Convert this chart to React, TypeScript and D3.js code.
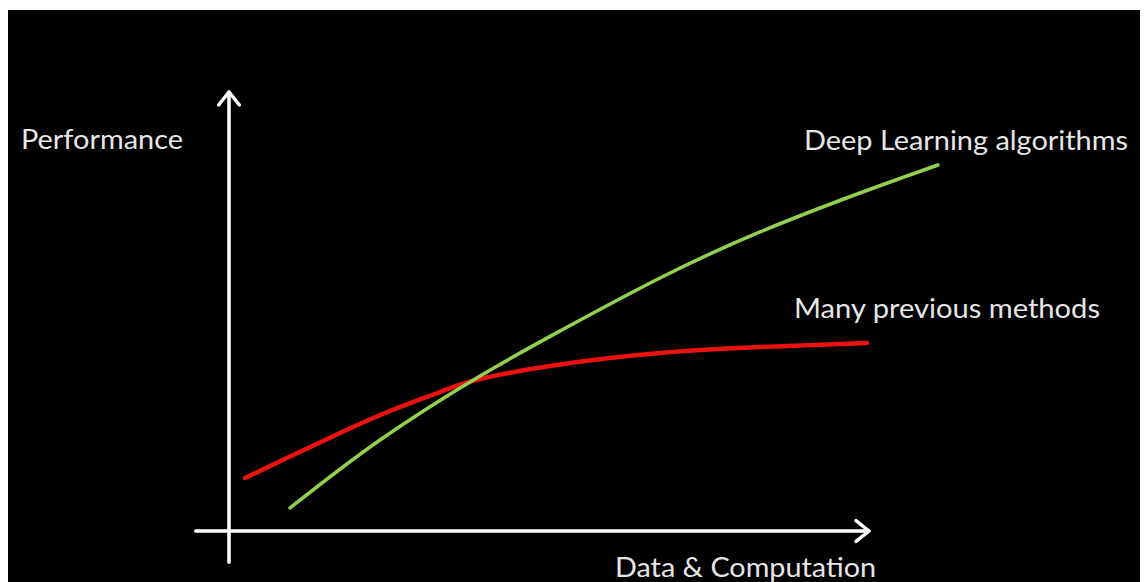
import React from "react";
import * as d3 from "d3";

// Conceptual curves: performance vs. amount of data & computation
const previousMethodsX = [2.5, 9.53, 17.34, 25.16, 32.97, 39.22, 51.72, 67.34, 82.97, 99.69];
const previousMethodsY = [12.07, 16.97, 22.32, 27.33, 31.66, 34.62, 37.93, 40.55, 41.91, 42.82];

const deepLearningX = [9.53, 23.59, 39.22, 51.72, 67.34, 82.97, 98.59, 110.78];
const deepLearningY = [5.24, 20.73, 35.31, 45.56, 57.63, 68.12, 76.99, 83.37];

const xAxisExtent = [-5.2, 100];
const yAxisExtent = [-7.1, 100];

const labels = {
  yAxis: "Performance",
  xAxis: "Data & Computation",
  deep: "Deep Learning algorithms",
  previous: "Many previous methods",
};

const W = 1140;
const H = 574;
const OFF = 8; // svg sits inside the body margin

export default function App() {
  const x = d3.scaleLinear().domain([0, 100]).range([229 - OFF, 869 - OFF]);
  const y = d3.scaleLinear().domain([0, 100]).range([531 - OFF, 92 - OFF]);

  const line = d3
    .line<[number, number]>()
    .x((d) => x(d[0]))
    .y((d) => y(d[1]))
    .curve(d3.curveNatural);

  const redPts = previousMethodsX.map((v, i) => [v, previousMethodsY[i]] as [number, number]);
  const greenPts = deepLearningX.map((v, i) => [v, deepLearningY[i]] as [number, number]);

  const x0 = x(0);
  const y0 = y(0);
  const xTip = x(xAxisExtent[1]);
  const yTip = y(yAxisExtent[1]);
  const ah = 13;

  const font = "Lato, 'Open Sans', sans-serif";
  const textFill = "#e6e6e6";

  return (
    <svg width={W} height={H} style={{ display: "block" }}>
      <rect x={0} y={2} width={W} height={H - 2} fill="#000" />
      {/* axes */}
      <g stroke="#fff" strokeWidth={3.5} fill="none" strokeLinecap="round" strokeLinejoin="round">
        <line x1={x0} y1={y(yAxisExtent[0])} x2={x0} y2={yTip} />
        <line x1={x(xAxisExtent[0])} y1={y0} x2={xTip} y2={y0} />
        <polyline points={`${x0 - ah * 0.8},${yTip + ah} ${x0},${yTip} ${x0 + ah * 0.8},${yTip + ah}`} />
        <polyline points={`${xTip - ah},${y0 - ah * 0.8} ${xTip},${y0} ${xTip - ah},${y0 + ah * 0.8}`} />
      </g>
      {/* curves */}
      <path d={line(redPts) || ""} fill="none" stroke="#ec1111" strokeWidth={4.5} strokeLinecap="round" />
      <path d={line(greenPts) || ""} fill="none" stroke="#92d050" strokeWidth={3.5} strokeLinecap="round" />
      {/* labels */}
      <g fill={textFill} fontFamily={font} fontSize={26}>
        <text x={21 - OFF} y={149 - OFF} textLength={162} lengthAdjust="spacingAndGlyphs">
          {labels.yAxis}
        </text>
        <text x={804 - OFF} y={150 - OFF} textLength={324} lengthAdjust="spacingAndGlyphs">
          {labels.deep}
        </text>
        <text x={794 - OFF} y={318 - OFF} textLength={306} lengthAdjust="spacingAndGlyphs">
          {labels.previous}
        </text>
        <text x={615 - OFF} y={577 - OFF} textLength={261} lengthAdjust="spacingAndGlyphs">
          {labels.xAxis}
        </text>
      </g>
    </svg>
  );
}
